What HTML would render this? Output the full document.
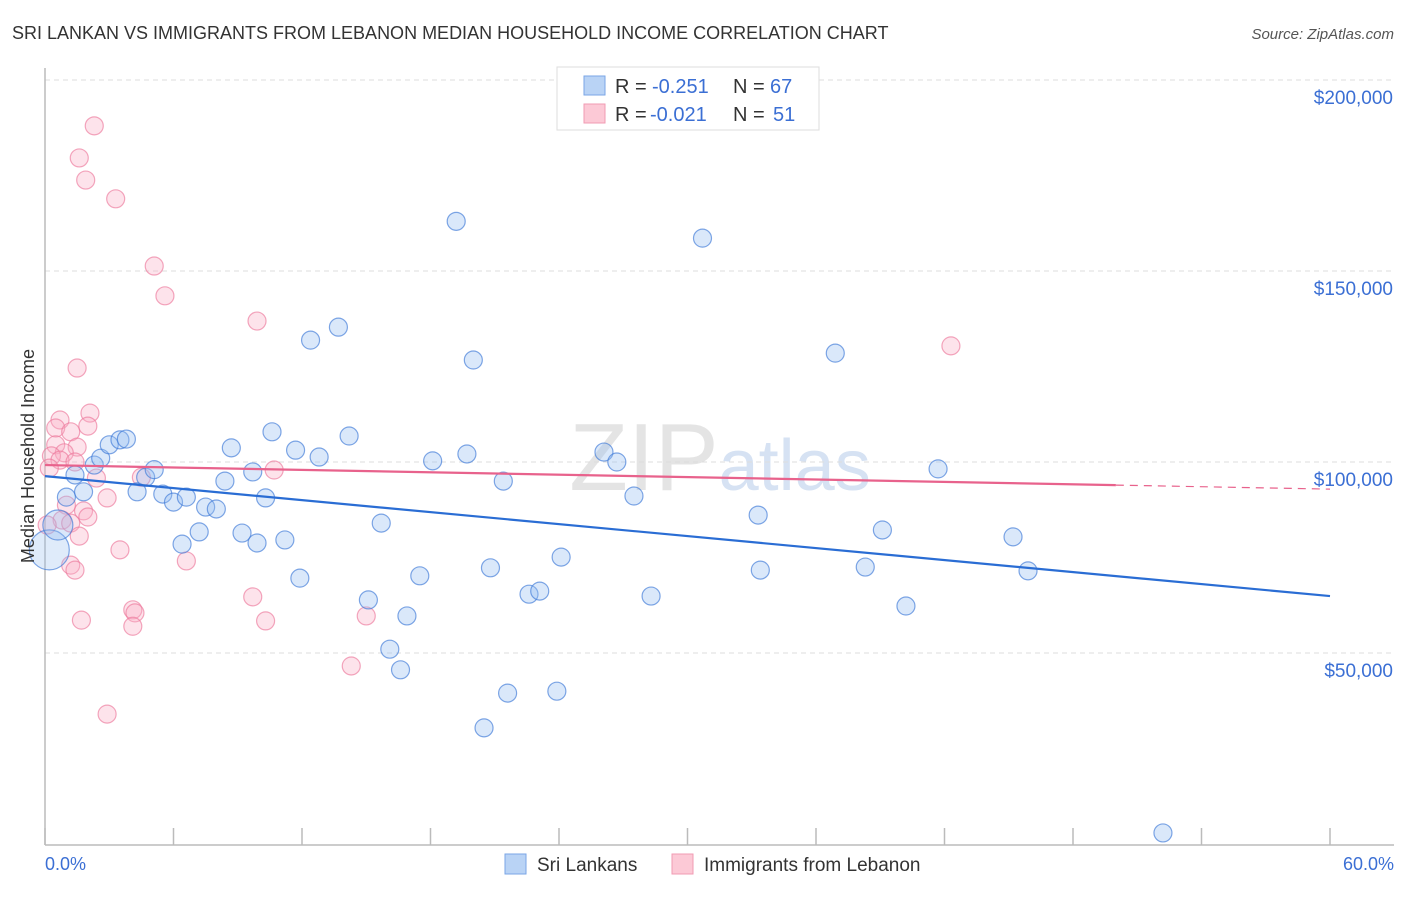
<!DOCTYPE html>
<html><head><meta charset="utf-8"><style>
body{margin:0;background:#fff;font-family:"Liberation Sans",sans-serif;}
svg text{font-family:"Liberation Sans",sans-serif;}
</style></head><body>
<svg id="chart" width="1406" height="892" xmlns="http://www.w3.org/2000/svg">
<text x="12" y="39" font-size="18" fill="#333">SRI LANKAN VS IMMIGRANTS FROM LEBANON MEDIAN HOUSEHOLD INCOME CORRELATION CHART</text>
<text x="1394" y="39" font-size="15" fill="#555" text-anchor="end" font-style="italic">Source: ZipAtlas.com</text>
<text x="720" y="490" font-size="96" fill="#e4e4e4" text-anchor="middle" font-family="Liberation Serif">ZIP<tspan fill="#d6e2f3" font-family="Liberation Sans" font-size="72">atlas</tspan></text>
<g id="grid"></g><g id="axes"></g><g id="pts"></g><g id="trend"></g>
<text transform="translate(34,456) rotate(-90)" font-size="18" fill="#333" text-anchor="middle">Median Household Income</text>
<text x="45" y="870" font-size="18" fill="#3b6fd4">0.0%</text>
<text x="1394" y="870" font-size="18" fill="#3b6fd4" text-anchor="end">60.0%</text>
<g>
<rect x="557" y="67" width="262" height="63" fill="#fff" stroke="#ddd"/>
<rect x="584" y="76" width="21" height="19" fill="#b9d3f5" stroke="#7aa6e6"/>
<rect x="584" y="104" width="21" height="19" fill="#fcc9d6" stroke="#f19bb3"/>
<text x="615" y="93" font-size="20" fill="#333">R =</text>
<text x="652" y="93" font-size="20" fill="#3b6fd4">-0.251</text>
<text x="733" y="93" font-size="20" fill="#333">N =</text>
<text x="770" y="93" font-size="20" fill="#3b6fd4">67</text>
<text x="615" y="121" font-size="20" fill="#333">R =</text>
<text x="650" y="121" font-size="20" fill="#3b6fd4">-0.021</text>
<text x="733" y="121" font-size="20" fill="#333">N =</text>
<text x="773" y="121" font-size="20" fill="#3b6fd4">51</text>
</g>
<g>
<rect x="505" y="854" width="21" height="20" fill="#b9d3f5" stroke="#7aa6e6"/>
<text x="537" y="871" font-size="19" fill="#333">Sri Lankans</text>
<rect x="672" y="854" width="21" height="20" fill="#fcc9d6" stroke="#f19bb3"/>
<text x="704" y="871" font-size="19" fill="#333">Immigrants from Lebanon</text>
</g>
</svg>
<script>
const yTicks=[50000,100000,150000,200000];
const yTickLabels=["$50,000","$100,000","$150,000","$200,000"];
const xTicks=[0,6,12,18,24,30,36,42,48,54,60];
const blueX=[0.2,0.6,1.0,1.4,1.8,2.3,2.6,3.0,3.5,3.8,4.3,4.7,5.1,5.5,6.0,6.4,6.6,7.2,7.5,8.0,8.4,8.7,9.2,9.7,9.9,10.3,10.6,11.2,11.7,11.9,12.4,12.8,13.7,14.2,15.1,15.7,16.1,16.6,16.9,17.5,18.1,19.2,19.7,20.0,20.5,20.8,21.4,21.6,22.6,23.1,23.9,24.1,26.1,26.7,27.5,28.3,30.7,33.3,33.4,36.9,38.3,39.1,40.2,41.7,45.2,45.9,52.2];
const blueY=[77,83.5,90.8,96.6,92.2,99.2,101,104.5,105.8,106,92.2,96,98,91.6,89.5,78.5,90.8,81.7,88.2,87.7,95,103.7,81.4,97.4,78.8,90.6,107.9,79.6,103.1,69.6,131.9,101.3,135.3,106.8,63.9,84,51,45.6,59.7,70.2,100.3,163,102.1,126.7,30.4,72.3,95,39.5,65.4,66.2,40,75.1,102.6,100,91.1,64.9,158.6,86.1,71.7,128.5,72.5,82.2,62.3,98.2,80.4,71.5,2.9];
const pinkX=[2.3,1.6,1.9,3.3,5.1,5.6,9.9,42.3,1.5,2.1,0.7,2.0,0.5,1.2,0.5,1.5,0.9,0.3,0.7,1.4,0.2,2.4,10.7,4.5,2.9,1.0,1.8,2.0,0.8,1.2,0.1,1.6,3.5,6.6,1.2,1.4,9.7,1.7,4.1,4.2,4.1,10.3,15.0,14.3,2.9];
const pinkY=[188,179.6,173.8,168.9,151.3,143.5,136.9,130.4,124.6,112.8,111,109.4,108.9,107.9,104.5,103.9,102.4,101.6,100.5,100,98.4,95.8,97.9,96,90.6,88.7,87.2,85.6,84.8,84,83.5,80.6,77,74.1,73,71.7,64.7,58.6,61.3,60.5,57,58.4,59.7,46.6,34];
const blueTrend=[96.3,64.9];
const pinkTrend=[99.2,92.9];
const pinkSolidEnd=50;
const NS="http://www.w3.org/2000/svg";
const X0=45,X1=1330,Y0=844,PX50K=191;
function sx(v){return X0+(v/60)*(X1-X0);}
function sy(v){return Y0-(v/50000)*PX50K;}
function mk(tag,attrs,parent){const e=document.createElementNS(NS,tag);for(const k in attrs)e.setAttribute(k,attrs[k]);parent.appendChild(e);return e;}
const grid=document.getElementById('grid'),axes=document.getElementById('axes'),pts=document.getElementById('pts'),trend=document.getElementById('trend');
yTicks.forEach((t,i)=>{
 const l=mk('line',{x1:X0,x2:1394,y1:sy(t),y2:sy(t),stroke:'#ddd','stroke-dasharray':'5,4'},grid);
 
 
 const tx=mk('text',{x:1393,y:sy(t)+24,'font-size':19,fill:'#3b6fd4','text-anchor':'end'},grid);
 tx.textContent=yTickLabels[i];
 
 
});
const ya=mk('line',{x1:X0,x2:X0,y1:68,y2:845,stroke:'#bbb','stroke-width':1.5},axes);


const xa=mk('line',{x1:X0,x2:1394,y1:845,y2:845,stroke:'#bbb','stroke-width':1.5},axes);


xTicks.forEach(t=>{
 const l=mk('line',{x1:sx(t),x2:sx(t),y1:828,y2:845,stroke:'#bbb','stroke-width':1.5},axes);
 
 
});
function dot(x,y,fill,stroke,name,r){
 const c=mk('circle',{cx:sx(x),cy:sy(y*1000),r:r,fill:fill,stroke:stroke,'stroke-width':1.2},pts);
 
 
}
pinkX.forEach((x,i)=>dot(x,pinkY[i],'rgba(248,175,198,0.35)','rgba(236,120,155,0.65)','lebanon-point',9));
blueX.forEach((x,i)=>{let r=9;if(i===0)r=20;if(i===1)r=15;dot(x,blueY[i],i===0?'rgba(150,190,240,0.3)':'rgba(150,190,240,0.35)','rgba(60,120,215,0.65)','sri-lankan-point',r);});
const bl=mk('line',{x1:sx(0),y1:sy(blueTrend[0]*1000),x2:sx(60),y2:sy(blueTrend[1]*1000),stroke:'#2a6dd4','stroke-width':2.2},trend);


const pAt=x=>pinkTrend[0]+(pinkTrend[1]-pinkTrend[0])*x/60;
const pl=mk('line',{x1:sx(0),y1:sy(pAt(0)*1000),x2:sx(pinkSolidEnd),y2:sy(pAt(pinkSolidEnd)*1000),stroke:'#e8628c','stroke-width':2.2},trend);


const pd=mk('line',{x1:sx(pinkSolidEnd),y1:sy(pAt(pinkSolidEnd)*1000),x2:sx(60),y2:sy(pAt(60)*1000),stroke:'#e8628c','stroke-width':1.2,'stroke-dasharray':'8,6'},trend);


</script>
</body></html>
